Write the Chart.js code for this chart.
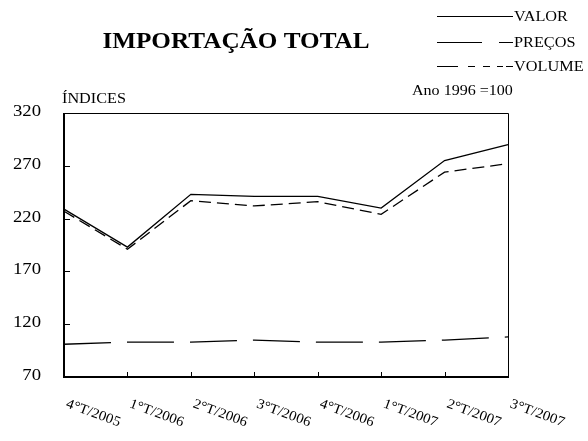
<!DOCTYPE html>
<html><head><meta charset="utf-8">
<script src="https://cdn.jsdelivr.net/npm/chart.js@4/dist/chart.umd.min.js"></script>
<style>html,body{margin:0;padding:0;background:#fff}canvas{display:block}</style>
</head><body>
<canvas id="c" width="588" height="441"></canvas>
<script>
const categories = ["4°T/2005","1°T/2006","2°T/2006","3°T/2006","4°T/2006","1°T/2007","2°T/2007","3°T/2007"];
const valor   = [229, 193, 243, 241, 241, 230, 275, 290];
const precos  = [101, 103, 103, 105, 103, 103, 105, 108];
const volume  = [227, 191, 237, 232, 236, 224, 264, 272];
const yTicks  = [70, 120, 170, 220, 270, 320];
const title = "IMPORTAÇÃO TOTAL";
const legendNames = ["VALOR", "PREÇOS", "VOLUME"];
const FONT = "'Liberation Serif', 'Times New Roman', serif";

function sText(ctx, txt, x, y, font, sx, align, base) {
  ctx.save();
  ctx.font = font;
  ctx.textAlign = align || 'left';
  ctx.textBaseline = base || 'alphabetic';
  ctx.translate(x, y);
  ctx.scale(sx, 1);
  ctx.fillText(txt, 0, 0);
  ctx.restore();
}

const deco = {
  id: 'deco',
  afterDraw(chart) {
    const ctx = chart.ctx, a = chart.chartArea;
    const xs = chart.scales.x, ys = chart.scales.y;
    ctx.save();
    ctx.strokeStyle = '#000';
    ctx.fillStyle = '#000';
    // frame
    ctx.lineWidth = 1;
    ctx.beginPath();
    ctx.moveTo(a.left, a.top + 0.5); ctx.lineTo(a.right + 0.5, a.top + 0.5);
    ctx.lineTo(a.right + 0.5, a.bottom);
    ctx.stroke();
    ctx.lineWidth = 2;
    ctx.beginPath();
    ctx.moveTo(a.left, a.top); ctx.lineTo(a.left, a.bottom); ctx.lineTo(a.right + 1, a.bottom);
    ctx.stroke();
    // inner ticks
    ctx.lineWidth = 1;
    ctx.beginPath();
    yTicks.forEach(v => {
      const y = Math.round(ys.getPixelForValue(v)) + 0.5;
      ctx.moveTo(a.left, y); ctx.lineTo(a.left + 6, y);
    });
    categories.forEach((c, i) => {
      if (i === 0) return;
      const x = Math.round(xs.getPixelForValue(i)) + 0.5;
      ctx.moveTo(x, a.bottom); ctx.lineTo(x, a.bottom - 5);
    });
    ctx.stroke();
    // y labels
    yTicks.forEach(v => {
      sText(ctx, String(v), 41, ys.getPixelForValue(v) - 1.5, "17px " + FONT, 1.1, 'right', 'middle');
    });
    // x labels rotated downward
    categories.forEach((c, i) => {
      const x = xs.getPixelForValue(i);
      ctx.save();
      ctx.translate(x + 5, a.bottom + 20);
      ctx.rotate(20 * Math.PI / 180);
      ctx.scale(1.07, 1);
      ctx.font = "14px " + FONT;
      ctx.textAlign = 'left';
      ctx.textBaseline = 'top';
      ctx.fillText(c, 0, 0);
      ctx.restore();
    });
    // title
    sText(ctx, title, 236, 48, "bold 24px " + FONT, 1.05, 'center', 'alphabetic');
    // ÍNDICES & Ano
    sText(ctx, "ÍNDICES", 62, 103, "15px " + FONT, 1.08, 'left', 'alphabetic');
    sText(ctx, "Ano 1996 =100", 412, 95, "15px " + FONT, 1.07, 'left', 'alphabetic');
    // legend
    const ly = [16, 42, 66];
    const dashes = [[], [45, 17, 14, 100], [21, 10, 7, 8, 7, 7, 6, 3, 7, 100]];
    legendNames.forEach((n, i) => {
      ctx.save();
      ctx.lineWidth = 1.2;
      ctx.setLineDash(dashes[i]);
      ctx.beginPath();
      ctx.moveTo(437, ly[i] + 0.5); ctx.lineTo(513, ly[i] + 0.5);
      ctx.stroke();
      ctx.restore();
      sText(ctx, n, 514, ly[i] + 1, "15.5px " + FONT, 1.05, 'left', 'middle');
    });
    ctx.restore();
  }
};

new Chart(document.getElementById('c'), {
  type: 'line',
  data: {
    labels: categories,
    datasets: [
      { label: legendNames[0], data: valor, borderColor: '#000', borderWidth: 1.3, pointRadius: 0, tension: 0, fill: false },
      { label: legendNames[1], data: precos, borderColor: '#000', borderWidth: 1.3, borderDash: [47, 16], pointRadius: 0, tension: 0, fill: false },
      { label: legendNames[2], data: volume, borderColor: '#000', borderWidth: 1.3, borderDash: [12, 6], pointRadius: 0, tension: 0, fill: false }
    ]
  },
  options: {
    responsive: false,
    animation: false,
    layout: { padding: { left: 0, top: 113, right: 80, bottom: 0 } },
    plugins: { legend: { display: false }, tooltip: { enabled: false } },
    scales: {
      x: {
        type: 'category',
        offset: false,
        grid: { display: false, drawTicks: false },
        border: { display: false },
        ticks: { display: false },
        afterFit: s => { s.height = 64; }
      },
      y: {
        min: 70, max: 320,
        afterBuildTicks: s => { s.ticks = yTicks.map(v => ({ value: v })); },
        grid: { display: false, drawTicks: false },
        border: { display: false },
        ticks: { display: false },
        afterFit: s => { s.width = 64; }
      }
    }
  },
  plugins: [deco]
});
</script>
</body></html>
